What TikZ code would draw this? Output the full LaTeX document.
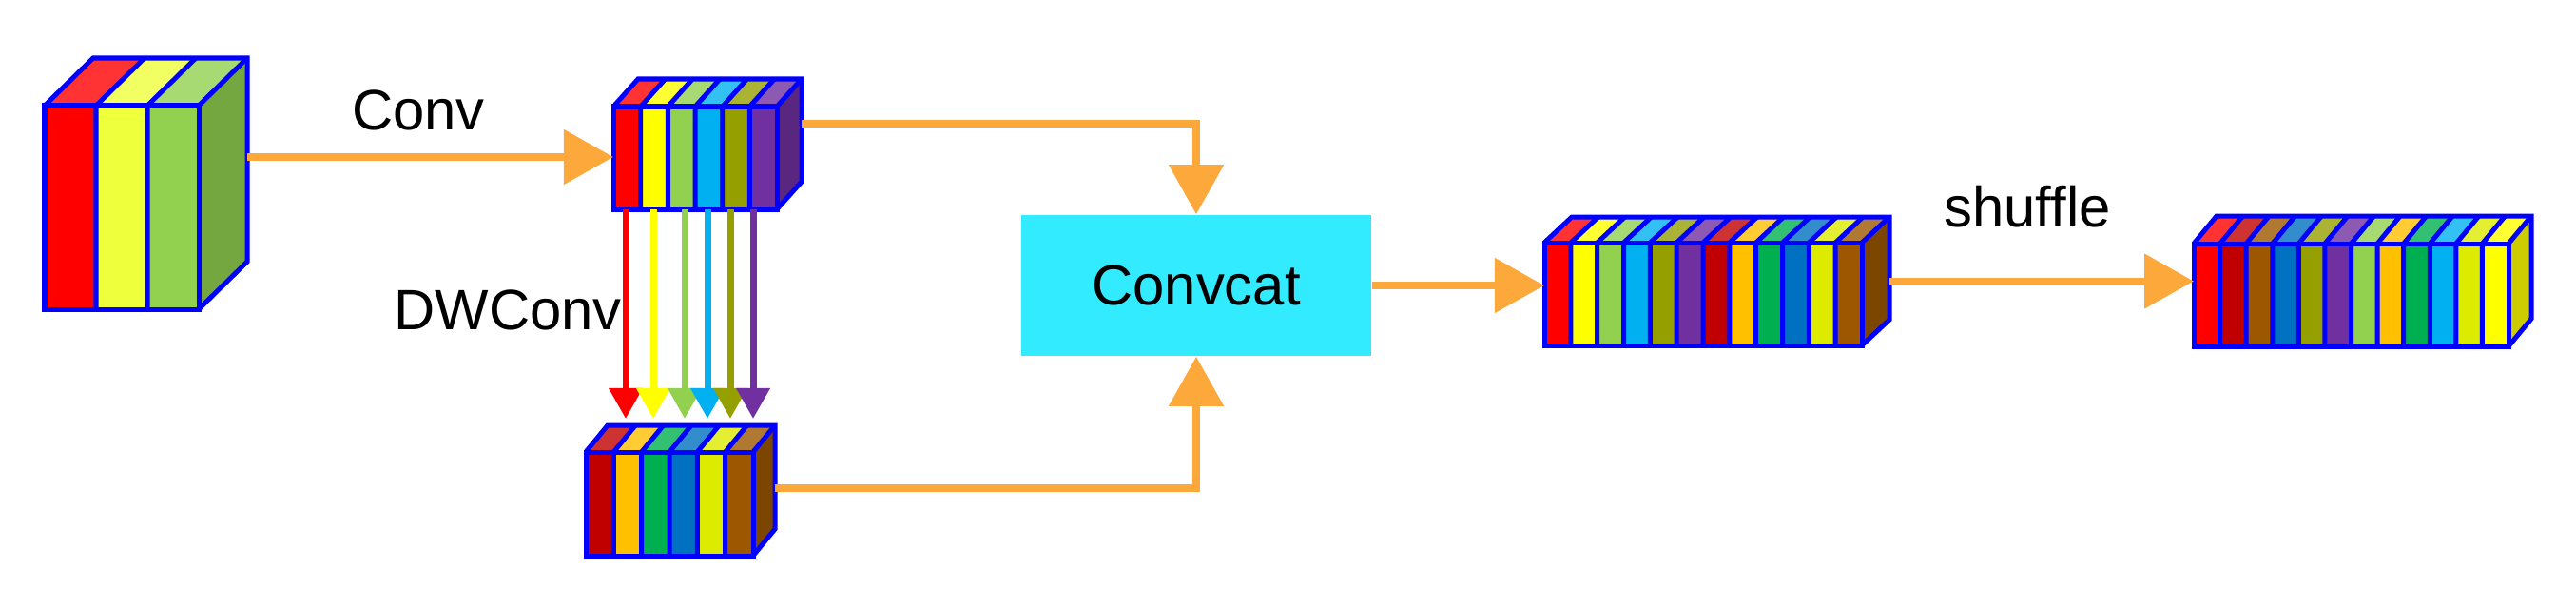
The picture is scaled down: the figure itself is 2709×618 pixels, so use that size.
\documentclass[tikz,border=0pt]{standalone}
\usepackage{fontspec}
\setmainfont{Liberation Sans}
\usetikzlibrary{arrows.meta,fit}

% stripe colours
\definecolor{cRed}{HTML}{FF0000}
\definecolor{cPaleYellow}{HTML}{EEFF3C}
\definecolor{cYellow}{HTML}{FFFF00}
\definecolor{cLightGreen}{HTML}{92D050}
\definecolor{cCyan}{HTML}{00B0F0}
\definecolor{cOlive}{HTML}{95A000}
\definecolor{cPurple}{HTML}{7030A0}
\definecolor{cDarkRed}{HTML}{C00000}
\definecolor{cOrange}{HTML}{FFC000}
\definecolor{cGreen}{HTML}{00B050}
\definecolor{cBlue}{HTML}{0070C0}
\definecolor{cLime}{HTML}{DDEB00}
\definecolor{cBrown}{HTML}{9C5700}
% other colours
\definecolor{flowc}{HTML}{FDA83A}
\definecolor{catc}{HTML}{33EBFF}
\definecolor{edgec}{HTML}{0000FF}

\tikzset{
  blockline/.style={draw=edgec, line width=0.05cm, line join=miter},
  flow/.style={draw=flowc, line width=0.08cm, -{Triangle[length=0.52cm,width=0.56cm]}},
  dwarrow/.style={line width=0.07cm, shorten >=0.07cm, -{Triangle[length=0.32cm,width=0.34cm]}},
  lbl/.style={font=\fontsize{17}{21}\selectfont, inner sep=0pt},
  catbox/.style={fill=catc, minimum width=3.68cm, minimum height=1.48cm,
    font=\fontsize{17}{21}\selectfont}
}

% #1 name, #2 left, #3 top of front face, #4 width, #5 height, #6/#7 depth, #8 stripe colours
\newcommand{\featblock}[8]{%
  \foreach \c [count=\k] in {#8} {\xdef\nstripes{\k}}
  \pgfmathsetmacro{\sw}{#4/\nstripes}
  \pgfmathtruncatemacro{\nlast}{\nstripes-1}
  % front and top faces of each stripe
  \foreach \c [count=\k] in {#8} {
    \pgfmathsetmacro{\xa}{#2+(\k-1)*\sw}
    \fill[\c] (\xa,#3) rectangle ++(\sw,#5);
    \fill[\c!80!white] (\xa,#3) -- ++(\sw,0) -- ++(#6,-#7) -- ++(-\sw,0) -- cycle;
    \xdef\lastc{\c}
  }
  % side face
  \fill[\lastc!80!black] ({#2+#4},#3) -- ++(#6,-#7) -- ++(0,#5) -- ++(-#6,#7) -- cycle;
  % dividers
  \foreach \k in {1,...,\nlast} {
    \pgfmathsetmacro{\xb}{#2+\k*\sw}
    \draw[blockline] (\xb,{#3+#5}) -- (\xb,#3) -- ++(#6,-#7);
  }
  % outline
  \draw[blockline] (#2,#3) rectangle ++(#4,#5);
  \draw[blockline] (#2,#3) -- ++(#6,-#7) -- ++(#4,0) -- ++(0,#5) -- ++(-#6,#7);
  \draw[blockline] ({#2+#4},#3) -- ++(#6,-#7);
  \coordinate (#1-nw) at (#2,{#3-#7});
  \coordinate (#1-se) at ({#2+#4+#6},{#3+#5});
  \node[fit=(#1-nw)(#1-se), inner sep=0pt, outer sep=0pt] (#1) {};
}

\begin{document}
\begin{tikzpicture}[x=0.01cm, y=-0.01cm]
  \useasboundingbox (0,0) rectangle (2709,618);

  % feature blocks
  \featblock{in}{47}{111}{162}{214}{51}{50}{cRed,cPaleYellow,cLightGreen}
  \featblock{mid}{645}{112}{172}{108}{26}{29}{cRed,cYellow,cLightGreen,cCyan,cOlive,cPurple}
  \featblock{dw}{616}{475}{176}{109}{23}{28}{cDarkRed,cOrange,cGreen,cBlue,cLime,cBrown}
  \featblock{cc}{1624}{255}{334}{108}{29}{27}{cRed,cYellow,cLightGreen,cCyan,cOlive,cPurple,cDarkRed,cOrange,cGreen,cBlue,cLime,cBrown}
  \featblock{shuf}{2307}{256}{331}{108}{24}{29}{cRed,cDarkRed,cBrown,cBlue,cOlive,cPurple,cLightGreen,cOrange,cGreen,cCyan,cLime,cYellow}

  \node[catbox] (cat) at (1258,300) {Convcat};

  % connectors
  \path ([shift={(0,82)}]mid.north west) coordinate (mid-in);
  \draw[flow] (in.east |- mid-in) -- (mid-in);
  \draw[flow] ([shift={(0,47)}]mid.north east) -| (cat.north);
  \draw[flow] ([shift={(0,66)}]dw.north east) -| (cat.south);
  \draw[flow] (cat.east) -- (cat.east -| cc.west);
  \draw[flow] (cc.east |- shuf.west) -- (shuf.west);

  % depthwise arrows
  \foreach \x/\c in {658/cRed, 687/cYellow, 720/cLightGreen, 744/cCyan, 768/cOlive, 792/cPurple}
    \draw[dwarrow, \c] (\x,0 |- mid.south) -- (\x,0 |- dw.north);

  % labels
  \node[lbl] (convlbl) at (440,116) {Conv};
  \node[lbl] (dwlbl) at (534,326) {DWConv};
  \node[lbl] (shuflbl) at (2132,217) {shuffle};
\end{tikzpicture}
\end{document}
